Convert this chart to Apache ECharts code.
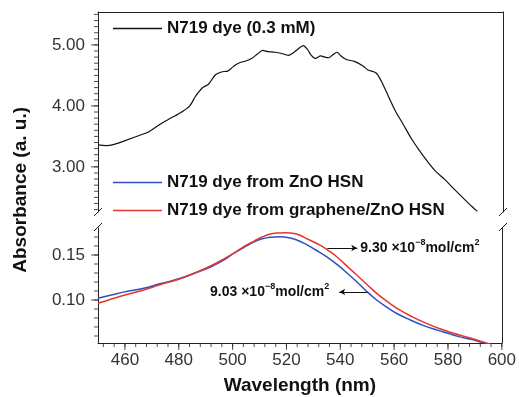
<!DOCTYPE html>
<html>
<head>
<meta charset="utf-8">
<script src="https://cdn.jsdelivr.net/npm/echarts@6/dist/echarts.min.js"></script>
<style>html,body{margin:0;padding:0;background:#fff}#c{width:519px;height:397px}</style>
</head>
<body>
<div id="c"></div>
<script>
// ---- data ----
var blackNm = [450,453,456,460,465,469,473,477,481,484,486,488.5,491,493.5,496,498,500,502,505,507,509,511,513,515.5,518,520.5,522,524,526,527.5,529,530.5,532.5,534,535.5,537,538.5,540,542,545,548,550,553,555,556.5,560,563,566,569,572,575,578.5,582,585,588.5,590.5];
var blackAbs = [3.36,3.35,3.37,3.43,3.51,3.58,3.70,3.80,3.90,4.00,4.15,4.29,4.36,4.51,4.56,4.57,4.64,4.70,4.74,4.78,4.85,4.91,4.89,4.88,4.86,4.83,4.86,4.93,4.99,4.93,4.83,4.78,4.82,4.80,4.79,4.84,4.88,4.82,4.76,4.73,4.66,4.59,4.54,4.40,4.26,3.93,3.70,3.47,3.27,3.09,2.93,2.79,2.63,2.50,2.35,2.27];

var blueNm = [450,455,460,467,473,480,486,492,497,500.5,504,508,511,514,518,522.5,526,529,532,535,539,542.5,546,550,553.5,557,561,566,571,576,580,584,589,593,596];
var blueAbs = [0.102,0.1055,0.109,0.113,0.118,0.1235,0.130,0.137,0.145,0.152,0.158,0.1645,0.168,0.1698,0.1703,0.168,0.1638,0.159,0.1535,0.148,0.139,0.130,0.1205,0.109,0.100,0.0926,0.085,0.0778,0.0715,0.0665,0.063,0.0593,0.056,0.0526,0.0505];

var redNm = [450,455,460,467,473,480,486,492,497,500.5,504,508,511,514,517,520,523,525,528,532.5,536,538.7,542,546,550,553.5,558,562,567,572,577,582,588,594.5,596];
var redAbs = [0.0963,0.101,0.1055,0.111,0.117,0.123,0.130,0.138,0.146,0.152,0.159,0.1655,0.170,0.1733,0.1745,0.1748,0.1738,0.172,0.1675,0.161,0.154,0.148,0.139,0.128,0.117,0.1074,0.097,0.0889,0.081,0.074,0.068,0.063,0.058,0.052,0.051];

var seriesNames = ['N719 dye (0.3 mM)', 'N719 dye from ZnO HSN', 'N719 dye from graphene/ZnO HSN'];
// tick labels
var xTickLabels = [460, 480, 500, 520, 540, 560, 580, 600];
var topTickLabels = [3, 4, 5];
var bottomTickLabels = [0.10, 0.15];
// minor tick spacing
var xMinorStep = 4, topMinorStep = 0.1, botMinorStep = 0.01;
var annoRed = {from:[535.2,0.1578], to:[546.3,0.1578], text:'{a|9.30 ×10}{s|−8}{a|mol/cm}{s|2}'};
var annoBlue = {from:[550,0.1089], to:[539.6,0.1089], text:'{a|9.03 ×10}{s|−8}{a|mol/cm}{s|2}'};

// ---- layout ----
var LEFT = 98, RIGHT = 16;
var X = {min: 450, max: 600};
var topP = {top: 12, bottom: 212, min: 2.26, max: 5.54};
var botP = {top: 228, bottom: 343, min: 0.0522, max: 0.18};
var MAJ = 7, MIN = 4;

function pairs(xs, ys){ return xs.map(function(x,i){ return [x, ys[i]]; }); }

var FONT = 'Liberation Sans, Arial, sans-serif';
var lineCol = '#222';
var tickCol = '#222';
var rich = {
  a: {fontSize: 14, fontWeight: 'bold', color: '#111', fontFamily: FONT},
  s: {fontSize: 9, fontWeight: 'bold', color: '#111', fontFamily: FONT, padding: [0,0,10,0]}
};
var hidden = {show: false};
var yLabel = function(vals){ return {show: true, customValues: vals, fontSize: 17, color: '#333', margin: 13, fontFamily: FONT,
  formatter: function(v){ return v.toFixed(2); }}; };
function frameAxis(gi, pos, min, max, extra) {
  var a = {gridIndex: gi, type: 'value', position: pos, min: min, max: max,
    axisLine: {show: true, onZero: false, lineStyle: {color: lineCol, width: 1}},
    axisTick: hidden, axisLabel: hidden, splitLine: hidden};
  if (extra) for (var k in extra) a[k] = extra[k];
  return a;
}
function range(a, b, step) { var out = []; var n = Math.round((b - a) / step); for (var i = 0; i <= n; i++) out.push(+(a + i * step).toFixed(6)); return out; }
function tickSeries(xi, yi, pts, size, offset) {
  return {type: 'scatter', xAxisIndex: xi, yAxisIndex: yi, silent: true, clip: false, z: 5,
    data: pts, symbol: 'rect', symbolSize: size, symbolOffset: offset, itemStyle: {color: tickCol}};
}

var chart = echarts.init(document.getElementById('c'), null, {renderer: 'canvas'});
var legendText = {fontSize: 17, fontWeight: 'bold', color: '#111', fontFamily: FONT};
var option = {
  animation: false,
  backgroundColor: '#fff',
  grid: [
    {left: LEFT, right: RIGHT, top: topP.top, height: topP.bottom - topP.top},
    {left: LEFT, right: RIGHT, top: botP.top, height: botP.bottom - botP.top}
  ],
  legend: [
    {data: [seriesNames[0]], left: 113, top: 20, padding: 0, icon: 'rect', itemWidth: 49, itemHeight: 1.5,
     textStyle: legendText, selectedMode: false},
    {data: [seriesNames[1], seriesNames[2]], orient: 'vertical', left: 113, top: 174, itemGap: 11, padding: 0,
     icon: 'rect', itemWidth: 49, itemHeight: 1.5, textStyle: legendText, selectedMode: false}
  ],
  xAxis: [
    frameAxis(0, 'top', X.min, X.max),
    frameAxis(1, 'bottom', X.min, X.max, {
      axisLabel: {show: true, customValues: xTickLabels, fontSize: 17, color: '#333', margin: 9, fontFamily: FONT},
      name: 'Wavelength (nm)', nameLocation: 'middle', nameGap: 33,
      nameTextStyle: {fontSize: 19, fontWeight: 'bold', color: '#111', fontFamily: FONT}})
  ],
  yAxis: [
    frameAxis(0, 'left', topP.min, topP.max, {axisLabel: yLabel(topTickLabels)}),
    frameAxis(0, 'right', topP.min, topP.max),
    frameAxis(1, 'left', botP.min, botP.max, {axisLabel: yLabel(bottomTickLabels)}),
    frameAxis(1, 'right', botP.min, botP.max)
  ],
  series: [
    {name: seriesNames[0], type: 'line', xAxisIndex: 0, yAxisIndex: 0, data: pairs(blackNm, blackAbs),
     showSymbol: false, smooth: 0.3, lineStyle: {color: '#111', width: 1.2}, itemStyle: {color: '#111'}},
    {name: seriesNames[1], type: 'line', xAxisIndex: 1, yAxisIndex: 2, data: pairs(blueNm, blueAbs),
     showSymbol: false, smooth: 0.4, lineStyle: {color: '#2f4fc4', width: 1.5}, itemStyle: {color: '#2f4fc4'},
     markLine: {silent: true, symbol: ['none', 'arrow'], symbolSize: [5, 6], animation: false,
       lineStyle: {color: '#111', width: 1, type: 'solid'},
       label: {show: true, position: 'end', distance: 10, formatter: annoBlue.text, rich: rich},
       data: [[{coord: annoBlue.from}, {coord: annoBlue.to}]]}},
    {name: seriesNames[2], type: 'line', xAxisIndex: 1, yAxisIndex: 2, data: pairs(redNm, redAbs),
     showSymbol: false, smooth: 0.4, lineStyle: {color: '#e2372f', width: 1.5}, itemStyle: {color: '#e2372f'},
     markLine: {silent: true, symbol: ['none', 'arrow'], symbolSize: [5, 6], animation: false,
       lineStyle: {color: '#111', width: 1, type: 'solid'},
       label: {show: true, position: 'end', distance: 3, formatter: annoRed.text, rich: rich},
       data: [[{coord: annoRed.from}, {coord: annoRed.to}]]}},
    // axis tick marks: thin rect symbols placed on the axes through the library scales
    tickSeries(0, 0, topTickLabels.map(function(v){ return [X.min, v]; }), [MAJ, 1], [-MAJ / 2, 0]),
    tickSeries(0, 0, range(2.3, 5.5, topMinorStep).map(function(v){ return [X.min, v]; }), [MIN, 1], [-MIN / 2, 0]),
    tickSeries(1, 2, bottomTickLabels.map(function(v){ return [X.min, v]; }), [MAJ, 1], [-MAJ / 2, 0]),
    tickSeries(1, 2, range(0.06, 0.17, botMinorStep).map(function(v){ return [X.min, v]; }), [MIN, 1], [-MIN / 2, 0]),
    tickSeries(1, 2, xTickLabels.map(function(v){ return [v, botP.min]; }), [1, MAJ], [0, MAJ / 2]),
    tickSeries(1, 2, range(452, 600, xMinorStep).map(function(v){ return [v, botP.min]; }), [1, MIN], [0, MIN / 2])
  ],
  graphic: [
    {type: 'text', left: 11, top: 107, rotation: Math.PI / 2, z: 10,
     style: {text: 'Absorbance (a. u.)', font: 'bold 19px ' + FONT, fill: '#111'}},
    // axis break marks
    {type: 'line', shape: {x1: 94, y1: 216, x2: 102, y2: 208}, style: {stroke: lineCol, lineWidth: 1}},
    {type: 'line', shape: {x1: 94, y1: 231, x2: 102, y2: 223}, style: {stroke: lineCol, lineWidth: 1}},
    {type: 'line', shape: {x1: 499, y1: 216, x2: 507, y2: 208}, style: {stroke: lineCol, lineWidth: 1}},
    {type: 'line', shape: {x1: 499, y1: 231, x2: 507, y2: 223}, style: {stroke: lineCol, lineWidth: 1}}
  ]
};
chart.setOption(option);
</script>
</body>
</html>
